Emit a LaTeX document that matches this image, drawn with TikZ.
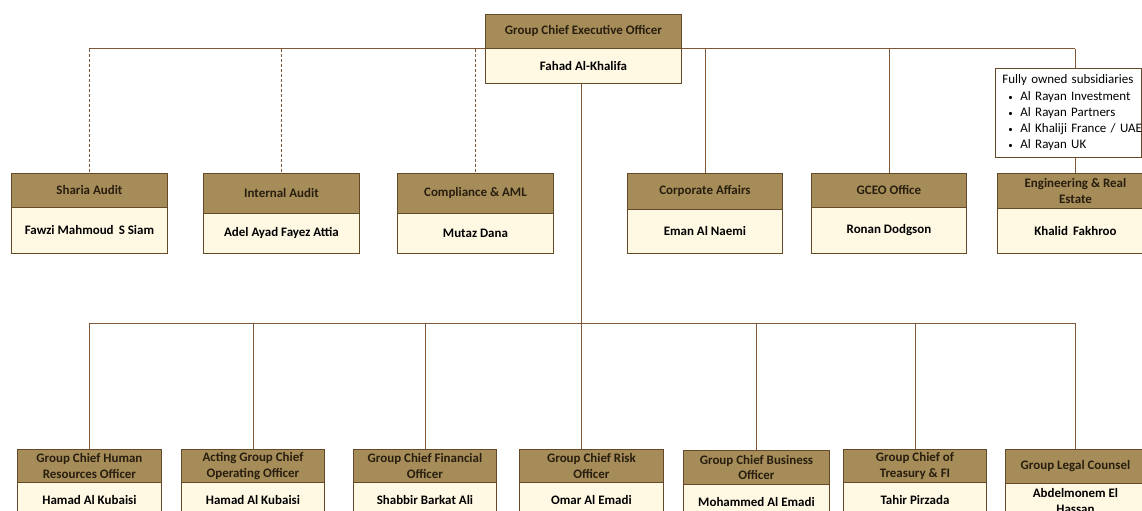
\documentclass[tikz,border=0pt]{standalone}
\usepackage{fontspec}
\setmainfont{Carlito}
\definecolor{hdrfill}{RGB}{166,140,88}
\definecolor{bodyfill}{RGB}{255,249,228}
\definecolor{bdr}{RGB}{100,74,40}
\definecolor{lnc}{RGB}{128,88,55}
\definecolor{hdrtext}{RGB}{40,30,15}
\newcommand{\subsline}[1]{\mbox{\makebox[18bp][l]{\hspace{6bp}{\small\textbullet}}#1}}
\begin{document}
\begin{tikzpicture}[x=1bp,y=-1bp,
  box/.style={draw=bdr, line width=0.9bp, anchor=north west, inner sep=0pt, align=center},
  hdr/.style={box, fill=hdrfill, text=hdrtext, font=\bfseries\fontsize{13}{15.5}\selectfont},
  body/.style={box, fill=bodyfill, text=black, font=\bfseries\fontsize{13}{16}\selectfont},
  subsbox/.style={draw=bdr, line width=0.9bp, fill=white, anchor=north west, inner xsep=7bp, inner ysep=3bp, align=left, text width=132bp, minimum height=89bp, font=\fontsize{13}{16.3}\selectfont},
  conn/.style={draw=lnc, line width=0.9bp},
  dconn/.style={conn, dash pattern=on 3bp off 2bp}]
\clip (0,0) rectangle (1142,511);
\fill[white] (0,0) rectangle (1142,511);

% CEO
\node[hdr, minimum width=196bp, minimum height=34bp] (ceoh) at (485,14) {Group Chief Executive Officer};
\node[body, minimum width=196bp, minimum height=35bp] (ceob) at (485,48) {Fahad Al-Khalifa};

% middle row
\node[hdr, minimum width=156bp, minimum height=34bp] (sharia) at (11,173) {Sharia Audit};
\node[body, minimum width=156bp, minimum height=46bp] (shariab) at (11,207) {Fawzi Mahmoud\, S Siam};
\node[hdr, minimum width=156bp, minimum height=40bp] (internal) at (203,173) {Internal Audit};
\node[body, minimum width=156bp, minimum height=40bp] (internalb) at (203,213) {Adel Ayad Fayez Attia};
\node[hdr, minimum width=156bp, minimum height=40bp] (compl) at (397,173) {Compliance \& AML};
\node[body, minimum width=156bp, minimum height=40bp] (complb) at (397,213) {Mutaz Dana};
\node[hdr, minimum width=155bp, minimum height=36bp] (corp) at (627,173) {Corporate Affairs};
\node[body, minimum width=155bp, minimum height=44bp] (corpb) at (627,209) {Eman Al Naemi};
\node[hdr, minimum width=155bp, minimum height=34bp] (gceo) at (811,173) {GCEO Office};
\node[body, minimum width=155bp, minimum height=46bp] (gceob) at (811,207) {Ronan Dodgson};
\node[hdr, minimum width=156bp, minimum height=35bp] (eng) at (997,173) {Engineering \& Real\\Estate};
\node[body, minimum width=156bp, minimum height=45bp] (engb) at (997,208) {Khalid\, Fakhroo};

% subsidiaries
\node[subsbox] (subs) at (995,68) {\mbox{Fully owned subsidiaries}\\
\subsline{Al Rayan Investment}\\
\subsline{Al Rayan Partners}\\
\subsline{Al Khaliji France / UAE}\\
\subsline{Al Rayan UK}};

% bottom row
\node[hdr, minimum width=144bp, minimum height=33bp] (hr) at (17,449) {Group Chief Human\\Resources Officer};
\node[body, minimum width=144bp, minimum height=36bp] (hrb) at (17,482) {Hamad Al Kubaisi};
\node[hdr, minimum width=143bp, minimum height=33bp] (coo) at (181,449) {Acting Group Chief\\Operating Officer};
\node[body, minimum width=143bp, minimum height=36bp] (coob) at (181,482) {Hamad Al Kubaisi};
\node[hdr, minimum width=143bp, minimum height=33bp] (cfo) at (353,449) {Group Chief Financial\\Officer};
\node[body, minimum width=143bp, minimum height=36bp] (cfob) at (353,482) {Shabbir Barkat Ali};
\node[hdr, minimum width=144bp, minimum height=33bp] (risk) at (519,449) {Group Chief Risk\\Officer};
\node[body, minimum width=144bp, minimum height=36bp] (riskb) at (519,482) {Omar Al Emadi};
\node[hdr, minimum width=146bp, minimum height=34bp] (bus) at (683,450) {Group Chief Business\\Officer};
\node[body, minimum width=146bp, minimum height=36bp] (busb) at (683,484) {Mohammed Al Emadi};
\node[hdr, minimum width=143bp, minimum height=33bp] (treas) at (843,449) {Group Chief of\\Treasury \& FI};
\node[body, minimum width=143bp, minimum height=36bp] (treasb) at (843,482) {Tahir Pirzada};
\node[hdr, minimum width=140bp, minimum height=34bp] (legal) at (1005,449) {Group Legal Counsel};
\node[body, minimum width=140bp, minimum height=36bp] (legalb) at (1005,483) {Abdelmonem El\\Hassan};

% top connectors
\draw[conn] (ceoh.south west) -- (ceoh.south west -| sharia.north);
\draw[conn] (ceoh.south east) -- (ceoh.south east -| eng.north);
\draw[dconn] (ceoh.south west -| sharia.north) -- (sharia.north);
\draw[dconn] (ceoh.south west -| internal.north) -- (internal.north);
\draw[dconn] (ceoh.south west -| compl.north) -- (compl.north);
\draw[conn] (ceoh.south east -| corp.north) -- (corp.north);
\draw[conn] (ceoh.south east -| gceo.north) -- (gceo.north);
\draw[conn] (ceoh.south east -| eng.north) -- (subs.north -| eng.north);
\draw[conn] (subs.south -| eng.north) -- (eng.north);

% central trunk and bottom bus
\coordinate (bus0) at (581,323);
\draw[conn] (ceob.south -| bus0) -- (risk.north -| bus0);
\draw[conn] (bus0 -| hr.north) -- (bus0 -| legal.north);
\foreach \n in {hr,coo,cfo,bus,treas,legal}
  \draw[conn] (bus0 -| \n.north) -- (\n.north);
\end{tikzpicture}
\end{document}
